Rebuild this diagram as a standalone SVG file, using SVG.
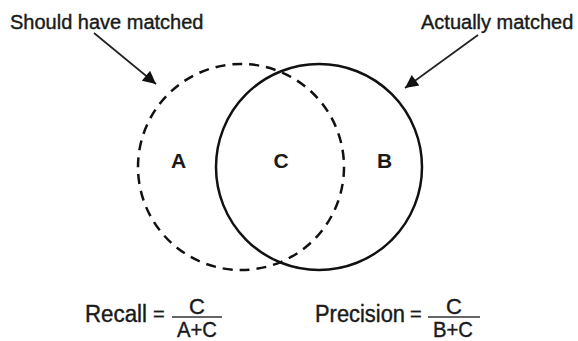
<svg xmlns="http://www.w3.org/2000/svg" width="578" height="341" viewBox="0 0 578 341">
  <style>
    .lbl { font-family: "Liberation Sans", Arial, sans-serif; fill: #1a1a1a; stroke: #1a1a1a; stroke-width: 0.4; }
    .top { font-size: 20px; }
    .bot { font-size: 23px; }
    .eq { font-size: 20px; }
    .set { font-size: 21px; font-weight: bold; text-anchor: middle; stroke: none; }
    .frac { font-size: 22px; text-anchor: middle; }
    .circ { fill: none; stroke: #111; stroke-width: 2.5; }
    .dash { stroke-dasharray: 10 7; }
    .conn { stroke: #222; stroke-width: 1.7; fill: none; }
    .bar { stroke: #333; stroke-width: 1.3; }
  </style>
  <defs>
    <marker id="ah" viewBox="0 0 10 10" refX="10" refY="5" markerUnits="userSpaceOnUse" markerWidth="20" markerHeight="13" orient="auto">
      <path d="M0,0 L10,5 L0,10 Z" fill="#111"/>
    </marker>
  </defs>
  <rect width="578" height="341" fill="#ffffff"/>

  <g id="should-have-matched">
    <circle class="circ dash" cx="241" cy="167" r="103"/>
    <text class="lbl top" x="10" y="29">Should have matched</text>
  </g>

  <g id="actually-matched">
    <circle class="circ" cx="319" cy="167" r="103"/>
    <text class="lbl top" x="421" y="29">Actually matched</text>
  </g>

  <g id="region-a"><text class="lbl set" x="178.5" y="168">A</text></g>
  <g id="region-c"><text class="lbl set" x="281" y="168">C</text></g>
  <g id="region-b"><text class="lbl set" x="384.5" y="168">B</text></g>

  <g id="connectors">
    <line class="conn" x1="94" y1="33" x2="156" y2="84" marker-end="url(#ah)"/>
    <line class="conn" x1="478" y1="35" x2="405" y2="88" marker-end="url(#ah)"/>
  </g>

  <g id="recall">
    <text class="lbl bot" x="85" y="322" textLength="62" lengthAdjust="spacingAndGlyphs">Recall</text>
    <text class="lbl eq" x="153" y="321">=</text>
    <text class="lbl frac" x="197" y="314">C</text>
    <line class="bar" x1="172" y1="317" x2="222" y2="317"/>
    <text class="lbl frac" x="197" y="337" textLength="40" lengthAdjust="spacingAndGlyphs">A+C</text>
  </g>

  <g id="precision">
    <text class="lbl bot" x="315" y="322" textLength="90" lengthAdjust="spacingAndGlyphs">Precision</text>
    <text class="lbl eq" x="410" y="321">=</text>
    <text class="lbl frac" x="454" y="314">C</text>
    <line class="bar" x1="428" y1="317" x2="480" y2="317"/>
    <text class="lbl frac" x="453" y="337" textLength="40" lengthAdjust="spacingAndGlyphs">B+C</text>
  </g>
</svg>
